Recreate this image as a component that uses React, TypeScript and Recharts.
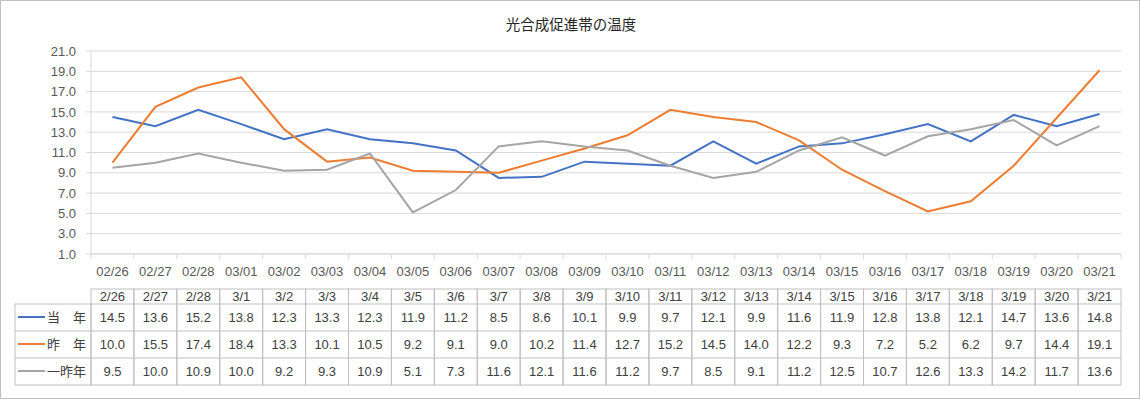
import React from 'react';
import { LineChart, Line, XAxis, YAxis, CartesianGrid } from 'recharts';

const dates = ['02/26', '02/27', '02/28', '03/01', '03/02', '03/03', '03/04', '03/05', '03/06', '03/07', '03/08', '03/09', '03/10', '03/11', '03/12', '03/13', '03/14', '03/15', '03/16', '03/17', '03/18', '03/19', '03/20', '03/21'];
const headers = ['2/26', '2/27', '2/28', '3/1', '3/2', '3/3', '3/4', '3/5', '3/6', '3/7', '3/8', '3/9', '3/10', '3/11', '3/12', '3/13', '3/14', '3/15', '3/16', '3/17', '3/18', '3/19', '3/20', '3/21'];
const thisYear = [14.5, 13.6, 15.2, 13.8, 12.3, 13.3, 12.3, 11.9, 11.2, 8.5, 8.6, 10.1, 9.9, 9.7, 12.1, 9.9, 11.6, 11.9, 12.8, 13.8, 12.1, 14.7, 13.6, 14.8];
const lastYear = [10.0, 15.5, 17.4, 18.4, 13.3, 10.1, 10.5, 9.2, 9.1, 9.0, 10.2, 11.4, 12.7, 15.2, 14.5, 14.0, 12.2, 9.3, 7.2, 5.2, 6.2, 9.7, 14.4, 19.1];
const twoYearsAgo = [9.5, 10.0, 10.9, 10.0, 9.2, 9.3, 10.9, 5.1, 7.3, 11.6, 12.1, 11.6, 11.2, 9.7, 8.5, 9.1, 11.2, 12.5, 10.7, 12.6, 13.3, 14.2, 11.7, 13.6];
const yTicks = [1, 3, 5, 7, 9, 11, 13, 15, 17, 19, 21];

const series = [
  { key: 'thisYear', name: '当　年', color: '#4472C4', values: thisYear },
  { key: 'lastYear', name: '昨　年', color: '#ED7D31', values: lastYear },
  { key: 'twoYearsAgo', name: '一昨年', color: '#A5A5A5', values: twoYearsAgo },
];

const data = dates.map((d, i) => ({
  date: d,
  thisYear: thisYear[i],
  lastYear: lastYear[i],
  twoYearsAgo: twoYearsAgo[i],
}));

const W = 1140;
const H = 399;
const LEFT = 91;
const RIGHT = 19;
const TOP = 51;
const PLOT_BOTTOM = 254;
const BW = (W - LEFT - RIGHT) / dates.length;
const FONT = "'Liberation Sans', 'Noto Sans CJK JP', sans-serif";
const GRID = '#d9d9d9';
const TABLE_LINE = '#bfbfbf';
const ROWS = [289, 304, 331, 358, 385];

const TableTick = (props: any) => {
  const { x, payload } = props;
  const i = payload.index;
  const left = x - BW / 2;
  return (
    <g fontFamily={FONT}>
      <line x1={left} y1={PLOT_BOTTOM} x2={left} y2={PLOT_BOTTOM + 5} stroke={GRID} />
      {i === dates.length - 1 && (
        <line x1={left + BW} y1={PLOT_BOTTOM} x2={left + BW} y2={PLOT_BOTTOM + 5} stroke={GRID} />
      )}
      <text x={x} y={276} textAnchor="middle" fontSize={13} fill="#595959">{dates[i]}</text>
      {/* table column */}
      <rect x={left} y={ROWS[0]} width={BW} height={ROWS[4] - ROWS[0]} fill="none" stroke={TABLE_LINE} />
      {[1, 2, 3].map(r => (
        <line key={r} x1={left} y1={ROWS[r]} x2={left + BW} y2={ROWS[r]} stroke={TABLE_LINE} />
      ))}
      <text x={x} y={301} textAnchor="middle" fontSize={13} fill="#404040">{headers[i]}</text>
      {series.map((s, r) => (
        <text key={s.key} x={x} y={ROWS[r + 1] + 18} textAnchor="middle" fontSize={13} fill="#404040">
          {s.values[i].toFixed(1)}
        </text>
      ))}
      {i === 0 && (
        <g>
          <rect x={15} y={ROWS[1]} width={left - 15} height={ROWS[4] - ROWS[1]} fill="none" stroke={TABLE_LINE} />
          {[2, 3].map(r => (
            <line key={r} x1={15} y1={ROWS[r]} x2={left} y2={ROWS[r]} stroke={TABLE_LINE} />
          ))}
          {series.map((s, r) => (
            <g key={s.key}>
              <line x1={18} y1={ROWS[r + 1] + 13} x2={45} y2={ROWS[r + 1] + 13} stroke={s.color} strokeWidth={2} />
              <text x={47} y={ROWS[r + 1] + 18} fontSize={13} fill="#404040" fontFamily="'Noto Sans CJK JP', sans-serif">
                {s.name}
              </text>
            </g>
          ))}
        </g>
      )}
    </g>
  );
};

const App: React.FC = () => {
  return (
    <div
      style={{
        position: 'absolute',
        left: 0,
        top: 0,
        width: W,
        height: H,
        boxSizing: 'border-box',
        border: '1px solid #bfbfbf',
        background: '#fff',
      }}
    >
      <div
        style={{
          position: 'absolute',
          top: 12,
          left: 0,
          width: W,
          textAlign: 'center',
          fontFamily: "'Noto Sans CJK JP', sans-serif",
          fontSize: 14.5,
          color: '#262626',
        }}
      >
        光合成促進帯の温度
      </div>
      <div style={{ position: 'absolute', left: -1, top: -1 }}>
        <LineChart
          width={W}
          height={H}
          data={data}
          margin={{ top: TOP, right: RIGHT, left: 0, bottom: 0 }}
        >
          <CartesianGrid vertical={false} stroke={GRID} />
          <XAxis
            dataKey="date"
            interval={0}
            height={H - PLOT_BOTTOM}
            padding={{ left: BW / 2, right: BW / 2 }}
            tickLine={false}
            axisLine={{ stroke: GRID }}
            tick={<TableTick />}
          />
          <YAxis
            domain={[1, 21]}
            ticks={yTicks}
            interval={0}
            width={LEFT}
            tickSize={5}
            tickMargin={10}
            tickLine={{ stroke: GRID }}
            axisLine={{ stroke: GRID }}
            tickFormatter={(v: number) => v.toFixed(1)}
            tick={{ fontSize: 13, fill: '#595959', fontFamily: FONT }}
          />
          {series.map(s => (
            <Line
              key={s.key}
              type="linear"
              dataKey={s.key}
              stroke={s.color}
              strokeWidth={2}
              dot={false}
              isAnimationActive={false}
            />
          ))}
        </LineChart>
      </div>
    </div>
  );
};

export default App;
